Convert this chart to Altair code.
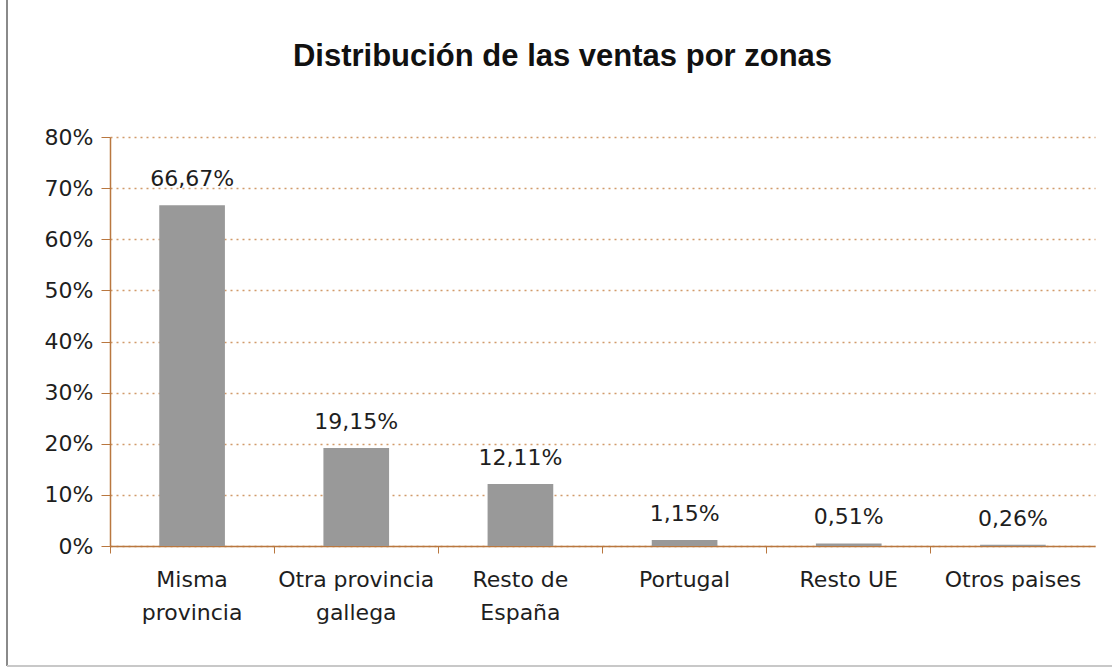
import altair as alt
import pandas as pd

categories = ["Misma\nprovincia", "Otra provincia\ngallega", "Resto de\nEspaña",
              "Portugal", "Resto UE", "Otros paises"]
values = [66.67, 19.15, 12.11, 1.15, 0.51, 0.26]
y_ticks = [0, 10, 20, 30, 40, 50, 60, 70, 80]

df = pd.DataFrame({"zona": categories, "valor": values})

FONT = "DejaVu Sans"
TITLE_FONT = "Liberation Sans"
AXIS_COLOR = "#b9773f"
GRID_COLOR = "#c98a50"
TXT = "#1e1e1e"

x = alt.X("zona:N", sort=categories, title=None,
          scale=alt.Scale(paddingInner=0, paddingOuter=0),
          axis=alt.Axis(labelAngle=0, labelExpr="split(datum.label, '\\n')",
                        bandPosition=0, tickSize=7, tickColor=AXIS_COLOR,
                        domainColor=AXIS_COLOR, domainWidth=1.5,
                        labelFontSize=22, labelFont=FONT, labelColor=TXT,
                        labelPadding=16, labelLineHeight=33))
y = alt.Y("valor:Q", title=None,
          scale=alt.Scale(domain=[0, 80], nice=False),
          axis=alt.Axis(values=y_ticks, labelExpr="datum.value + '%'",
                        labelFontSize=22, labelFont=FONT, labelColor=TXT,
                        tickSize=9, tickColor=AXIS_COLOR, domainColor=AXIS_COLOR,
                        domainWidth=1.5, labelPadding=8,
                        grid=True, gridColor=GRID_COLOR, gridDash=[2, 4],
                        gridWidth=1.5, gridOpacity=0.85))

bars = alt.Chart(df).mark_bar(color="#999999", width=alt.RelativeBandSize(0.4)).encode(x=x, y=y)

labels = alt.Chart(df).transform_calculate(
    txt="replace(format(datum.valor, '.2f'), '.', ',') + '%'"
).mark_text(dy=-14, baseline="bottom", fontSize=22, font=FONT, color=TXT).encode(
    x=alt.X("zona:N", sort=categories), y="valor:Q", text="txt:N")

frame_left = alt.Chart(df).mark_rule(color="#8a8a8a", strokeWidth=2).encode(
    x=alt.value(-103), y=alt.value(-137), y2=alt.value(529))
frame_bottom = alt.Chart(df).mark_rule(color="#c8c8c8", strokeWidth=2).encode(
    x=alt.value(-103), x2=alt.value(1002), y=alt.value(529))

chart = alt.layer(bars, labels, frame_left, frame_bottom).properties(
    width=985, height=409,
    title=alt.TitleParams("Distribución de las ventas por zonas", fontSize=31,
                          font=TITLE_FONT, fontWeight="bold", color="#111111",
                          offset=-98, dx=-40, anchor="middle", frame="group",
                          baseline="alphabetic"),
    padding={"left": 110, "top": 137, "right": 17, "bottom": 122},
    autosize=alt.AutoSizeParams(type="none"),
).configure(background="white", view=alt.ViewConfig(stroke=None))

chart.save("out.html", embed_options={"renderer": "svg", "actions": False})
